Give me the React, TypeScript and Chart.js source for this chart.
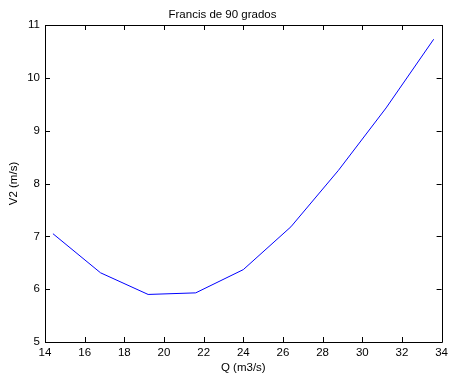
import React, { useEffect, useRef } from "react";
import { Chart, registerables } from "chart.js";

Chart.register(...registerables);

const titleText = "Francis de 90 grados";
const xLabel = "Q (m3/s)";
const yLabel = "V2 (m/s)";
const qValues = [14.4, 16.8, 19.2, 21.6, 24.0, 26.4, 28.8, 31.2, 33.6];
const v2Values = [7.05, 6.31, 5.9, 5.93, 6.37, 7.18, 8.25, 9.43, 10.73];
const xTickValues = [14, 16, 18, 20, 22, 24, 26, 28, 30, 32, 34];
const yTickValues = [5, 6, 7, 8, 9, 10, 11];

const FONT = "'Liberation Sans', Arial, sans-serif";
const FS = 11.5;

const boxPlugin = {
  id: "matlabBox",
  afterDraw(chart: any) {
    const { ctx, chartArea } = chart;
    const { left, right, top, bottom } = chartArea;
    const xs = chart.scales.x;
    const ys = chart.scales.y;
    const len = 5;
    ctx.save();
    ctx.strokeStyle = "#000";
    ctx.lineWidth = 1;
    ctx.beginPath();
    ctx.rect(Math.round(left) + 0.5, Math.round(top) + 0.5, Math.round(right - left), Math.round(bottom - top));
    for (const v of xTickValues) {
      const px = Math.round(xs.getPixelForValue(v)) + 0.5;
      ctx.moveTo(px, bottom);
      ctx.lineTo(px, bottom - len);
      ctx.moveTo(px, top);
      ctx.lineTo(px, top + len);
    }
    for (const v of yTickValues) {
      const py = Math.round(ys.getPixelForValue(v)) + 0.5;
      ctx.moveTo(left, py);
      ctx.lineTo(left + len, py);
      ctx.moveTo(right, py);
      ctx.lineTo(right - len, py);
    }
    ctx.stroke();
    ctx.restore();
  },
};

export default function App() {
  const ref = useRef<HTMLCanvasElement | null>(null);
  useEffect(() => {
    document.body.style.margin = "0";
    const canvas = ref.current;
    if (!canvas) return;
    const chart = new Chart(canvas, {
      type: "line",
      data: {
        datasets: [
          {
            data: qValues.map((q, i) => ({ x: q, y: v2Values[i] })),
            borderColor: "#0000ff",
            borderWidth: 1,
            pointRadius: 0,
            fill: false,
            tension: 0,
          },
        ],
      },
      options: {
        responsive: false,
        animation: false,
        devicePixelRatio: 1,
        layout: { padding: { left: 0, right: 7, top: 0, bottom: 0 } },
        plugins: {
          legend: { display: false },
          tooltip: { enabled: false },
          title: {
            display: true,
            text: titleText,
            color: "#000",
            font: { family: FONT, size: FS, weight: "normal" },
            padding: { top: 8, bottom: 3.2 },
          },
        },
        scales: {
          x: {
            type: "linear",
            min: 14,
            max: 34,
            afterBuildTicks: (s: any) => {
              s.ticks = xTickValues.map((v) => ({ value: v }));
            },
            afterFit: (s: any) => {
              s.height = 36;
            },
            grid: { display: false, drawTicks: false },
            border: { display: false },
            ticks: {
              color: "#000",
              font: { family: FONT, size: FS },
              padding: 4,
              maxRotation: 0,
              autoSkip: false,
            },
            title: {
              display: true,
              text: xLabel,
              color: "#000",
              font: { family: FONT, size: FS },
              padding: { top: 0, bottom: 3 },
            },
          },
          y: {
            type: "linear",
            min: 5,
            max: 11,
            afterBuildTicks: (s: any) => {
              s.ticks = yTickValues.map((v) => ({ value: v }));
            },
            afterFit: (s: any) => {
              s.width = 45;
            },
            grid: { display: false, drawTicks: false },
            border: { display: false },
            ticks: {
              color: "#000",
              font: { family: FONT, size: FS },
              padding: 5,
              autoSkip: false,
            },
            title: {
              display: true,
              text: yLabel,
              color: "#000",
              font: { family: FONT, size: FS },
              padding: { top: 7, bottom: 0 },
            },
          },
        },
      },
      plugins: [boxPlugin],
    } as any);
    return () => chart.destroy();
  }, []);
  return (
    <div style={{ width: 452, height: 378, background: "#fff" }}>
      <canvas ref={ref} width={452} height={378} style={{ display: "block" }} />
    </div>
  );
}
